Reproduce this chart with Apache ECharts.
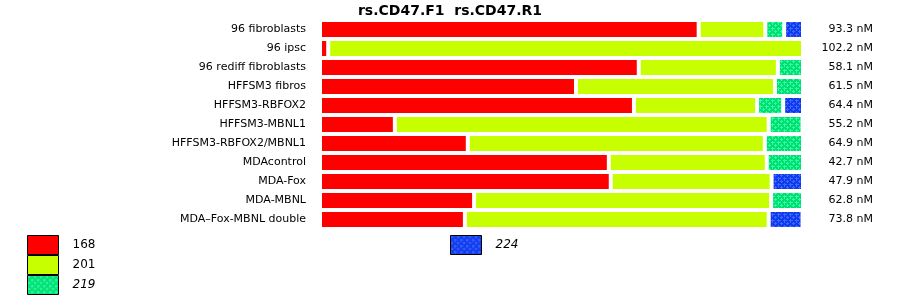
<!DOCTYPE html>
<html>
<head>
<meta charset="utf-8">
<script src="https://cdn.jsdelivr.net/npm/echarts@6/dist/echarts.min.js"></script>
<style>html,body{margin:0;padding:0;background:#fff;}#c{width:900px;height:299px;}</style>
</head>
<body>
<div id="c"></div>
<script>
const categories = ['96 fibroblasts','96 ipsc','96 rediff fibroblasts','HFFSM3 fibros','HFFSM3-RBFOX2','HFFSM3-MBNL1','HFFSM3-RBFOX2/MBNL1','MDAcontrol','MDA-Fox','MDA-MBNL','MDA\u2013Fox-MBNL double'];
const concLabels = ['93.3 nM','102.2 nM','58.1 nM','61.5 nM','64.4 nM','55.2 nM','64.9 nM','42.7 nM','47.9 nM','62.8 nM','73.8 nM'];
const seriesNames = ['168','201','219','224'];
const s168 = [78.4, 1.7, 66.0, 53.0, 65.0, 15.5, 30.6, 59.8, 60.2, 31.9, 30.0];
const s201 = [13.8, 98.3, 28.8, 41.2, 25.5, 77.4, 61.5, 32.7, 33.3, 61.5, 62.9];
const s219 = [3.9, null, 5.2, 5.8, 5.4, 7.0, 7.9, 7.5, null, 6.6, null];
const s224 = [3.9, null, null, null, 4.1, null, null, null, 6.5, null, 7.0];
const titleText = 'rs.CD47.F1  rs.CD47.R1';

function makePattern(base, dot) {
  const c = document.createElement('canvas');
  c.width = 6; c.height = 6;
  const g = c.getContext('2d');
  g.fillStyle = base; g.fillRect(0, 0, 6, 6);
  g.fillStyle = dot;
  function plus(x, y) {
    g.fillRect(x - 1, y, 3, 1);
    g.fillRect(x, y - 1, 1, 3);
  }
  plus(1, 1); plus(4, 4);
  g.fillRect(0, 4, 1, 1); g.fillRect(4, 0, 1, 1);
  return c;
}
const tealPat = makePattern('#00dd77', '#33ff99');
const bluePat = makePattern('#1038ee', '#3a6aff');

const colors = ['#ff0000', '#c8ff00', {image: tealPat, repeat: 'repeat'}, {image: bluePat, repeat: 'repeat'}];
const dataSets = [s168, s201, s219, s224];
const font = 'DejaVu Sans';

const chart = echarts.init(document.getElementById('c'), null, {renderer: 'canvas'});
chart.setOption({
  animation: false,
  backgroundColor: '#fff',
  title: {
    text: titleText, left: 'center', top: 4, padding: 0,
    textStyle: {fontFamily: font, fontSize: 14, fontWeight: 'bold', color: '#000'}
  },
  grid: {left: 320, right: 97, top: 20, height: 209},
  xAxis: {type: 'value', min: 0, max: 100, show: false},
  yAxis: [{
    type: 'category', data: categories, inverse: true,
    axisLine: {show: false}, axisTick: {show: false}, splitLine: {show: false},
    axisLabel: {fontFamily: font, fontSize: 11, color: '#000', margin: 14}
  }, {
    type: 'category', data: concLabels, inverse: true, position: 'right',
    axisLine: {show: false}, axisTick: {show: false}, splitLine: {show: false},
    axisLabel: {fontFamily: font, fontSize: 11, color: '#000', margin: 70, align: 'right'}
  }],
  legend: [{
    left: 27, top: 235, orient: 'vertical', itemWidth: 31, itemHeight: 19, itemGap: 0,
    padding: 0, height: 80,
    icon: 'rect',
    data: [{name: '168'}, {name: '201'}, {name: '219', textStyle: {fontStyle: 'italic'}}],
    itemStyle: {borderColor: '#000', borderWidth: 1},
    textStyle: {fontFamily: font, fontSize: 12, color: '#000', padding: [0, 0, 0, 9]}
  }, {
    left: 450, top: 235, orient: 'vertical', itemWidth: 31, itemHeight: 19,
    padding: 0,
    icon: 'rect',
    data: [{name: '224', textStyle: {fontStyle: 'italic'}}],
    itemStyle: {borderColor: '#000', borderWidth: 1},
    textStyle: {fontFamily: font, fontSize: 12, color: '#000', padding: [0, 0, 0, 9]}
  }],
  series: seriesNames.map((n, i) => ({
    name: n, type: 'bar', stack: 'all', barWidth: 19,
    data: dataSets[i],
    itemStyle: {color: colors[i], borderColor: '#fff', borderWidth: 2},
    emphasis: {disabled: true}
  }))
});
</script>
</body>
</html>
